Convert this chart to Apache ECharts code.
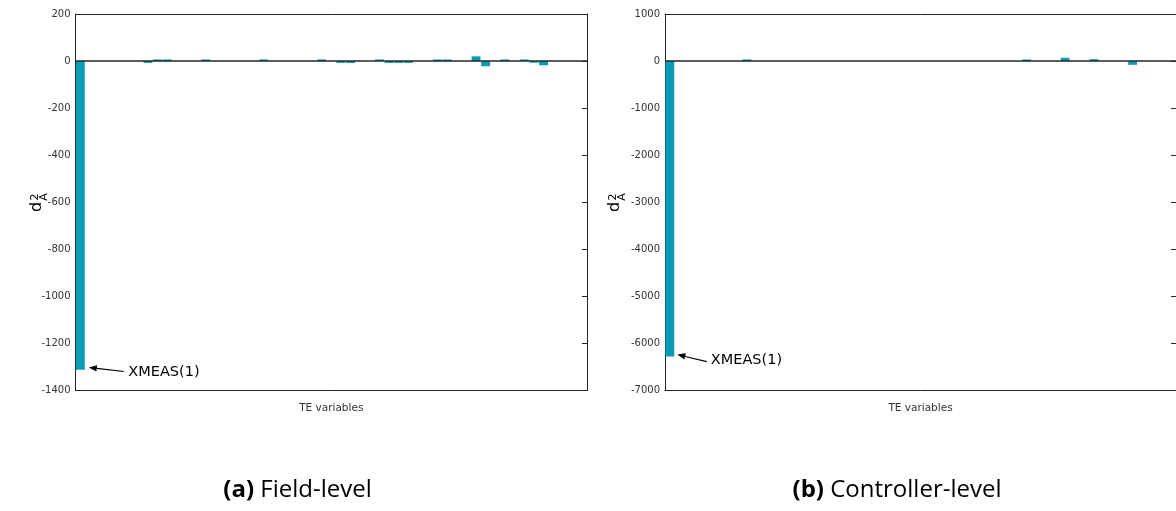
<!DOCTYPE html>
<html lang="en">

<head>
    <meta charset="UTF-8" />
    <title>TE variables d2A</title>
    <script src="https://cdn.jsdelivr.net/npm/echarts@6.0.0/dist/echarts.min.js"></script>
    <style>
        html, body { margin: 0; padding: 0; background: #fff; }
    </style>
</head>

<body>
    <div id="main" style="width: 1176px; height: 511px"></div>
    <script type="text/javascript">
        // 53 TE variables, no tick labels on the x axis
        const categories = Array.from({ length: 53 }, (_, i) => String(i + 1));

        // (a) field-level attack
        const fieldValues = [
            -1312, 0, 0, 0, 0, 0, 0, -8, 7, 7,
            0, 0, 0, 7, 0, 0, 0, 0, 0, 7,
            0, 0, 0, 0, 0, 7, 0, -8, -8, 0,
            0, 7, -8, -8, -8, 0, 0, 7, 7, 0,
            0, 20, -22, 0, 7, 0, 7, -7, -18, 0,
            0, 0, 0
        ];

        // (b) controller-level attack
        const controllerValues = [
            -6280, 0, 0, 0, 0, 0, 0, 0, 35, 0,
            0, 0, 0, 0, 0, 0, 0, 0, 0, 0,
            0, 0, 0, 0, 0, 0, 0, 0, 0, 0,
            0, 0, 0, 0, 0, 0, 0, 35, 0, 0,
            0, 70, 0, 0, 40, 0, 0, 0, -80, 0,
            0, 0, 0
        ];

        const fieldTicks = { min: -1400, max: 200, interval: 200 };
        const controllerTicks = { min: -7000, max: 1000, interval: 1000 };

        const barColor = '#0a9cb4';
        const ink = '#262626';
        const font = 'DejaVu Sans';

        function xAxes(gridIndex) {
            return [
                {
                    gridIndex: gridIndex,
                    type: 'category',
                    data: categories,
                    boundaryGap: true,
                    axisLine: { onZero: false, lineStyle: { color: ink, width: 1 } },
                    axisTick: { show: false },
                    axisLabel: { show: false },
                    name: 'TE variables',
                    nameLocation: 'middle',
                    nameGap: 12,
                    nameTextStyle: { fontFamily: font, fontSize: 10.5, color: '#333' }
                },
                {
                    gridIndex: gridIndex,
                    type: 'category',
                    data: categories,
                    position: 'top',
                    axisLine: { onZero: false, lineStyle: { color: ink, width: 1 } },
                    axisTick: { show: false },
                    axisLabel: { show: false }
                }
            ];
        }

        function yAxes(gridIndex, ticks) {
            const common = {
                gridIndex: gridIndex,
                type: 'value',
                min: ticks.min,
                max: ticks.max,
                interval: ticks.interval,
                splitLine: { show: false },
                axisLine: { show: true, lineStyle: { color: ink, width: 1 } },
                axisTick: { show: true, inside: true, length: 5, lineStyle: { color: ink } }
            };
            return [
                Object.assign({}, common, {
                    position: 'left',
                    axisLabel: {
                        fontFamily: font, fontSize: 10, color: '#333', margin: 5,
                        formatter: (v) => String(v)
                    }
                }),
                Object.assign({}, common, {
                    position: 'right',
                    axisLabel: { show: false }
                })
            ];
        }

        function barSeries(axisIndex, values) {
            return {
                type: 'bar',
                xAxisIndex: axisIndex,
                yAxisIndex: axisIndex,
                data: values,
                barCategoryGap: '8%',
                itemStyle: { color: barColor },
                silent: true,
                markLine: {
                    silent: true,
                    symbol: 'none',
                    label: { show: false },
                    lineStyle: { color: ink, width: 1.5, type: 'solid' },
                    data: [{ yAxis: 0 }]
                }
            };
        }

        let options = {
            animation: false,
            grid: [
                { left: 75.5, top: 14, width: 511.5, height: 376.5 },
                { left: 665, top: 14, width: 512, height: 376.5 }
            ],
            xAxis: xAxes(0).concat(xAxes(1)),
            yAxis: yAxes(0, fieldTicks).concat(yAxes(1, controllerTicks)),
            series: [barSeries(0, fieldValues), barSeries(2, controllerValues)]
        };

        let myChart = echarts.init(document.getElementById('main'));
        myChart.setOption(options);

        function arrow(tail, head) {
            const dx = head[0] - tail[0], dy = head[1] - tail[1];
            const len = Math.sqrt(dx * dx + dy * dy);
            const ux = dx / len, uy = dy / len;
            const L = 8, W = 3.2;
            const base = [head[0] - ux * L, head[1] - uy * L];
            return [
                {
                    type: 'line',
                    shape: { x1: tail[0], y1: tail[1], x2: base[0], y2: base[1] },
                    style: { stroke: '#000', lineWidth: 1.2 }
                },
                {
                    type: 'polygon',
                    shape: {
                        points: [head,
                            [base[0] - uy * W, base[1] + ux * W],
                            [base[0] + uy * W, base[1] - ux * W]]
                    },
                    style: { fill: '#000' }
                }
            ];
        }

        // rotated d with superscript 2 and subscript A
        function yLabel(x, y) {
            return [
                { type: 'text', x: x, y: y, rotation: Math.PI / 2,
                  style: { text: 'd', fontFamily: font, fontSize: 16, fill: '#000', align: 'center', verticalAlign: 'middle' } },
                { type: 'text', x: x - 2, y: y - 10, rotation: Math.PI / 2,
                  style: { text: '2', fontFamily: font, fontSize: 11, fill: '#000', align: 'center', verticalAlign: 'middle' } },
                { type: 'text', x: x + 7.5, y: y - 10, rotation: Math.PI / 2,
                  style: { text: 'A', fontFamily: font, fontSize: 11, fill: '#000', align: 'center', verticalAlign: 'middle' } }
            ];
        }

        function callout(axisIndex, values, head, tail, text) {
            const p = myChart.convertToPixel({ xAxisIndex: axisIndex, yAxisIndex: axisIndex }, [0, values[0]]);
            const h = [p[0] + head[0], p[1] + head[1]];
            const t = [p[0] + tail[0], p[1] + tail[1]];
            return arrow(t, h).concat([{
                type: 'text', x: p[0] + text[0], y: p[1] + text[1],
                style: { text: 'XMEAS(1)', fontFamily: font, fontSize: 14.5, fill: '#000', verticalAlign: 'middle' }
            }]);
        }

        const capFont = 'Open Sans';
        const captionRich = { b: { fontFamily: capFont, fontSize: 24, fontWeight: 'bold', fill: '#000' } };

        let graphics = []
            .concat(callout(0, fieldValues, [8.5, -2.3], [43.5, 1.7], [48, 2.7]))
            .concat(callout(2, controllerValues, [7.5, -2], [37, 5], [41, 3.3]))
            .concat(yLabel(37, 207))
            .concat(yLabel(615, 207))
            .concat([
                { type: 'text', x: 297.5, y: 490,
                  style: { text: '{b|(a)} Field-level', rich: captionRich, fontFamily: capFont, fontSize: 24, fill: '#000', align: 'center', verticalAlign: 'middle' } },
                { type: 'text', x: 897, y: 490,
                  style: { text: '{b|(b)} Controller-level', rich: captionRich, fontFamily: capFont, fontSize: 24, fill: '#000', align: 'center', verticalAlign: 'middle' } }
            ]);

        myChart.setOption({ graphic: graphics });
    </script>
</body>

</html>
